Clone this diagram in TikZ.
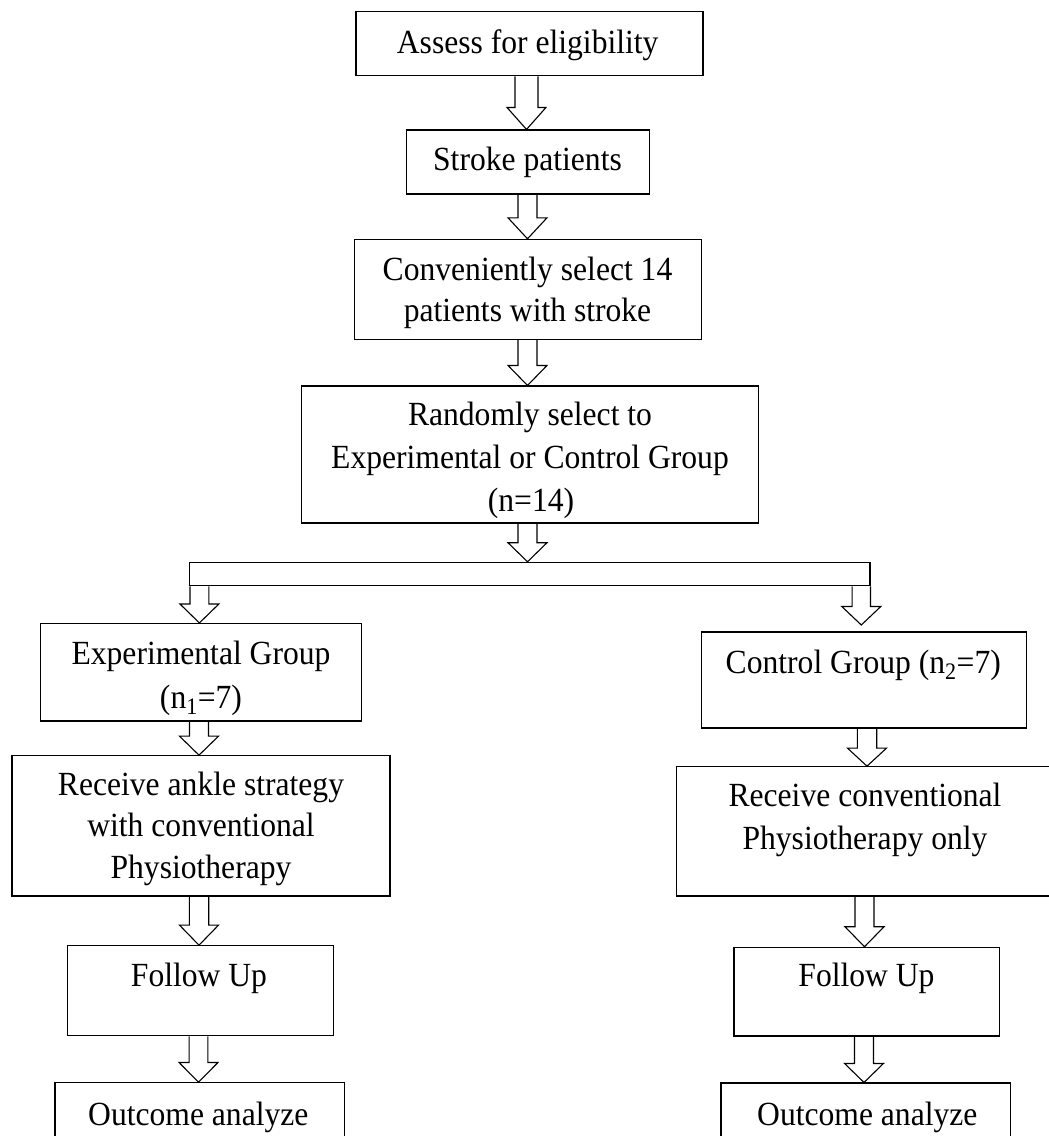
\documentclass[tikz,border=0pt]{standalone}
\usepackage{fontspec}
\setmainfont{Liberation Serif}
\usetikzlibrary{calc}
\tikzset{
  x=1pt,y=1pt,
  box/.style={draw, line width=1.1pt, inner sep=0pt, rectangle},
  lbl/.style={anchor=base, inner sep=0pt, yscale=1.07, transform shape, font=\fontsize{31.6}{42}\selectfont},
  blk/.style={draw, line width=1.1pt, line join=miter},
}
% #1 x of arrow axis, #2 source node, #3 target (node anchor or coordinate), #4 half shaft width, #5 head length
\newcommand\blockarr[5]{%
  \draw[blk] let \p1=(#2.south), \p2=(#3) in
    (#1pt-#4pt,\y1) -- (#1pt-#4pt,\y2+#5pt) -- (#1pt-19.5pt,\y2+#5pt) -- (#1pt,\y2)
    -- (#1pt+19.5pt,\y2+#5pt) -- (#1pt+#4pt,\y2+#5pt) -- (#1pt+#4pt,\y1);}
\begin{document}
\begin{tikzpicture}
\useasboundingbox (0,0) rectangle (1049,-1136);
\clip (0,0) rectangle (1049,-1136);
\fill[white] (0,0) rectangle (1049,-1136);

% boxes
\node[box, minimum width=347pt, minimum height=64pt] (b1) at (529.5,-43.7) {};
\node[box, minimum width=243.3pt, minimum height=64pt] (b2) at (527.7,-162) {};
\node[box, minimum width=347.4pt, minimum height=99.7pt] (b3) at (528,-289.2) {};
\node[box, minimum width=456.6pt, minimum height=137pt] (b4) at (530,-454.5) {};
\node[box, minimum width=680.7pt, minimum height=23.4pt] (br) at (529.65,-574) {};
\node[box, minimum width=321pt, minimum height=97.5pt] (exp) at (201.2,-672.25) {};
\node[box, minimum width=378pt, minimum height=140.3pt] (ra) at (201,-825.85) {};
\node[box, minimum width=265.6pt, minimum height=90pt] (fl) at (200.5,-990.7) {};
\node[box, minimum width=289.3pt, minimum height=89.3pt] (ol) at (199.65,-1127.35) {};
\node[box, minimum width=325.4pt, minimum height=96pt] (ctl) at (864,-680) {};
\node[box, minimum width=375.3pt, minimum height=129.3pt] (rb) at (864.35,-831.35) {};
\node[box, minimum width=265.3pt, minimum height=88.7pt] (fr) at (866.65,-991.65) {};
\node[box, minimum width=289.7pt, minimum height=89pt] (orr) at (865.85,-1127.5) {};
\coordinate (ctip) at (861.3,-625);

% texts
\node[lbl] (t1) at (527.7,-53.3) {Assess for eligibility};
\node[lbl] (t2) at (527.5,-170) {Stroke patients};
\node[lbl] (t3a) at (527.5,-280) {Conveniently select 14};
\node[lbl] (t3b) at (527.5,-321.7) {patients with stroke};
\node[lbl] (t4a) at (530,-425.7) {Randomly select to};
\node[lbl] (t4b) at (530,-468) {Experimental or Control Group};
\node[lbl] (t4c) at (531,-511) {(n=14)};
\node[lbl] (t5a) at (201,-664.3) {Experimental Group};
\node[lbl] (t5b) at (201,-708.3) {(n\textsubscript{1}=7)};
\node[lbl] (t6a) at (201,-795.7) {Receive ankle strategy};
\node[lbl] (t6b) at (201,-836.7) {with conventional};
\node[lbl] (t6c) at (201,-878.3) {Physiotherapy};
\node[lbl] (t7) at (199,-986.7) {Follow Up};
\node[lbl] (t8) at (198.3,-1125) {Outcome analyze};
\node[lbl] (t9) at (863.3,-673.3) {Control Group (n\textsubscript{2}=7)};
\node[lbl] (t10a) at (865,-806) {Receive conventional};
\node[lbl] (t10b) at (865,-849.3) {Physiotherapy only};
\node[lbl] (t11) at (866.5,-986.7) {Follow Up};
\node[lbl] (t12) at (867.3,-1125) {Outcome analyze};

% block arrows
\blockarr{526.5}{b1}{b2.north}{11.5}{22}
\blockarr{527.5}{b2}{b3.north}{9.5}{21}
\blockarr{527.5}{b3}{b4.north}{9.5}{20}
\blockarr{527.5}{b4}{br.north}{9.5}{19}
\blockarr{199.4}{br}{exp.north}{9.4}{19}
\blockarr{861.3}{br}{ctip}{9.2}{18.5}
\blockarr{199}{exp}{ra.north}{9.5}{19}
\blockarr{199}{ra}{fl.north}{9.7}{20}
\blockarr{198.5}{fl}{ol.north}{9.4}{19.7}
\blockarr{867}{ctl}{rb.north}{9.7}{18}
\blockarr{864.5}{rb}{fr.north}{9.5}{20}
\blockarr{864}{fr}{orr.north}{9.5}{19}
\end{tikzpicture}
\end{document}
